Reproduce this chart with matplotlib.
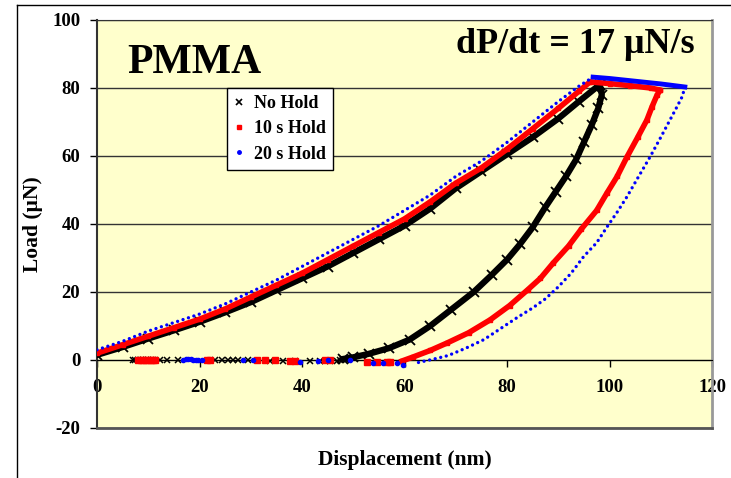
import matplotlib
matplotlib.use("Agg")
import matplotlib.pyplot as plt
from matplotlib.lines import Line2D

plt.rcParams['font.family'] = ['Liberation Serif', 'DejaVu Serif']
plt.rcParams['font.weight'] = 'bold'
plt.rcParams['axes.unicode_minus'] = False

# loading branches (displacement nm, load uN)
load_x_nohold = [0, 5, 10, 15, 20, 25, 30, 35, 40, 45, 50, 55, 60, 65, 70, 75, 80, 85, 90, 94, 98.1]
load_y_nohold = [1.5, 3.8, 6.3, 8.7, 11.2, 14, 17, 20.5, 24, 27.5, 31.5, 35.5, 39.5, 44.5, 50.5, 55.5, 60.5, 65.5, 71, 76, 81]
load_x_10s = [0, 5, 10, 15, 20, 25, 30, 35, 40, 45, 50, 55, 60, 65, 70, 75, 80, 85, 90, 94, 96.2]
load_y_10s = [2, 4.5, 7, 9.5, 12, 15, 18.5, 22, 25.5, 29.5, 33.5, 37.5, 41.5, 46.5, 52, 56.5, 62, 68, 74, 79, 81.8]
load_x_20s = [0, 5, 10, 15, 20, 25, 30, 35, 40, 45, 50, 55, 60, 65, 70, 75, 80, 85, 90, 94, 96.8]
load_y_20s = [3, 5.5, 8.5, 11, 13.5, 16.5, 20, 23.5, 27.5, 31.5, 35.5, 39.5, 44, 48.5, 54, 58.5, 64, 70, 76, 80.5, 83.2]

# hold segments
hold_x_10s = [96.2, 100, 104, 108, 109.9]
hold_y_10s = [81.8, 81.3, 80.7, 80, 79.4]
hold_x_20s = [96.8, 100, 105, 110, 114.7]
hold_y_20s = [83.2, 82.8, 82, 81.2, 80.3]

# unloading branches
unl_x_nohold = [98.1, 98.5, 97.8, 96.5, 95, 93.5, 91.5, 89.5, 87.5, 85, 82.5, 80, 77, 73.5, 69, 65, 61, 57, 53, 50, 48]
unl_y_nohold = [81, 78, 74, 69, 64, 59, 54, 49.5, 45, 39, 34, 29.5, 25, 20, 14.7, 10, 6, 3.5, 1.8, 0.8, 0.3]
unl_x_10s = [109.9, 109.3, 108.3, 107.3, 105.5, 103.4, 101.5, 99.5, 97.5, 94.5, 92, 89, 86.5, 84, 80.5, 76.7, 72.5, 68.3, 65, 61.7, 59.5]
unl_y_10s = [79.4, 78, 74.5, 70.6, 65.5, 59.7, 54, 49.1, 44, 38.5, 33.5, 28.5, 24, 20.6, 16, 11.8, 8, 5, 2.8, 0.9, -0.3]
unl_x_20s = [114.7, 114.2, 113, 111.8, 110, 107.9, 105.5, 103.4, 101.5, 99.5, 97.5, 95, 92.5, 90, 87.5, 85, 82, 79, 75.5, 72, 68.5, 65.5, 62.5]
unl_y_20s = [80.3, 77.5, 74, 70.6, 65.5, 59.7, 53.5, 48, 43.5, 39.1, 34.5, 30.5, 25.5, 21.5, 18, 15.3, 12.5, 9.5, 6, 3.5, 1.3, 0.2, -0.8]

# points lying near zero load after unloading
tail_x_nohold = [7, 7.5, 8, 8.5, 9, 9.5, 10, 10.5, 11, 12.3, 13.6, 15.8, 23, 24.4, 25.5, 26.5, 27.5, 29.5,
                 33.8, 36.3, 38.6, 41.5, 43.5, 44.5, 45.5, 46.8, 47.4, 48.5]
tail_y_nohold = [0, 0, 0, 0, 0, 0, 0, 0, 0, 0, 0, 0, 0, 0, 0, 0, 0, 0,
                 -0.2, -0.3, -0.3, -0.3, -0.3, -0.3, -0.2, -0.2, 0, 0]
tail_x_10s = [8, 8.5, 9, 9.5, 10, 10.5, 11, 11.3, 21.5, 22, 31.2, 32.8, 34.7, 37.7, 38.6, 44.5, 45.5,
              52.7, 54.6, 56.6, 57.2]
tail_y_10s = [0, 0, 0, 0, 0, 0, 0, 0, 0, 0, 0, 0, 0, -0.2, -0.2, 0, 0,
              -0.5, -0.7, -0.7, -0.7]
tail_x_20s = [16.8, 17.3, 17.8, 18.3, 18.8, 19.3, 19.8, 20.5, 28.5, 30.4, 39.6, 43.1, 45, 49.4,
              53.9, 55.8, 58.5, 59.7]
tail_y_20s = [0, 0.2, 0.2, 0.2, 0, 0, 0, 0, 0, 0, -0.5, -0.3, 0, 0,
              -1, -0.8, -0.8, -1.5]

series_labels = ["No Hold", "10 s Hold", "20 s Hold"]
x_ticks = [0, 20, 40, 60, 80, 100, 120]
y_ticks = [-20, 0, 20, 40, 60, 80, 100]

fig = plt.figure(figsize=(7.31, 4.78), dpi=100)
ax = fig.add_axes([97 / 731, 50 / 478, 615 / 731, 408 / 478])
ax.set_facecolor('#FFFFCC')

# black: no hold
ax.plot(load_x_nohold + unl_x_nohold, load_y_nohold + unl_y_nohold, color='black', lw=4.5,
        marker='x', ms=7, mew=1.3, zorder=3)
ax.plot(tail_x_nohold, tail_y_nohold, ls='none', color='black', marker='x', ms=5, mew=1.1, zorder=3)

# red: 10 s hold
ax.plot(load_x_10s + hold_x_10s + unl_x_10s, load_y_10s + hold_y_10s + unl_y_10s, color='red',
        lw=4, marker='s', ms=3.5, zorder=4)
ax.plot(tail_x_10s, tail_y_10s, ls='none', color='red', marker='s', ms=4, zorder=4)

# blue: 20 s hold, dotted
ax.plot(load_x_20s, load_y_20s, color='blue', lw=2.4,
        ls=(0, (0.01, 1.7)), dash_capstyle='round', zorder=5)
ax.plot(hold_x_20s, hold_y_20s, color='blue', lw=3.5, zorder=5)
ax.plot(unl_x_20s, unl_y_20s, color='blue', lw=2.4, ls=(0, (0.01, 1.7)),
        dash_capstyle='round', zorder=5)
ax.plot(tail_x_20s, tail_y_20s, ls='none', color='blue', marker='o', ms=3, zorder=5)

ax.set_xlim(0, 120)
ax.set_ylim(-20, 100)
ax.set_xticks(x_ticks)
ax.set_yticks(y_ticks)

ax.spines['bottom'].set_position(('data', 0))
ax.spines['bottom'].set_color('black')
ax.spines['left'].set_color('#333333')
ax.spines['left'].set_linewidth(1.5)
ax.spines['top'].set_color('#333333')
ax.spines['right'].set_color('#999999')
ax.spines['right'].set_linewidth(2)
ax.axhline(-20, color='#555555', lw=2, clip_on=False, zorder=6)

ax.yaxis.grid(True, color='#333333', lw=1)
ax.set_axisbelow(True)
ax.tick_params(axis='both', direction='out', length=5, width=1, labelsize=13.5)
ax.tick_params(axis='x', pad=9)
ax.tick_params(axis='y', pad=7)

ax.set_xlabel("Displacement (nm)", fontsize=15.5, fontweight='bold')
ax.xaxis.set_label_coords(0.5, -0.078)
ax.xaxis.label.set_va('center')
ax.set_ylabel("Load (μN)", fontsize=15.5, fontweight='bold')
ax.yaxis.set_label_coords(-0.104, 0.5)
ax.yaxis.label.set_va('center')

handles = [
    Line2D([], [], ls='none', color='black', marker='x', ms=5, mew=1.2),
    Line2D([], [], ls='none', color='red', marker='s', ms=3.5),
    Line2D([], [], ls='none', color='blue', marker='o', ms=2.5),
]
leg = ax.legend(handles, series_labels, loc='upper left', bbox_to_anchor=(0.211, 0.833),
                borderaxespad=0, fontsize=13, handlelength=0.6, handletextpad=0.5,
                labelspacing=0.45, borderpad=0.4, fancybox=False, framealpha=1,
                edgecolor='black')
leg.get_frame().set_linewidth(1)
leg.set_zorder(10)

fig.text(127 / 731, 1 - 73 / 478, "PMMA", fontsize=30, fontweight='bold', va='baseline')
fig.text(695 / 731, 1 - 53 / 478, "dP/dt = 17 μN/s", fontsize=26, fontweight='bold',
         va='baseline', ha='right')

# outer frame of the original figure
fig.add_artist(Line2D([17 / 731, 17 / 731], [0, 1 - 5 / 478], color='black', lw=1))
fig.add_artist(Line2D([17 / 731, 1], [1 - 5 / 478, 1 - 5 / 478], color='black', lw=1))

fig.savefig("out.png", dpi=100)
